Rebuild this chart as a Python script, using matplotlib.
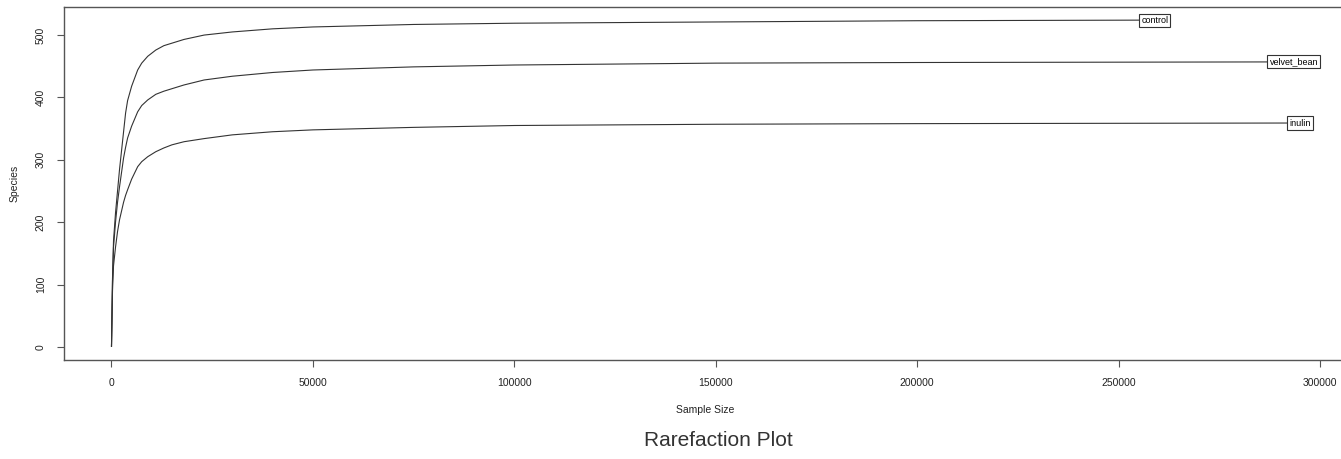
import matplotlib.pyplot as plt

plt.rcParams['font.family'] = ['Liberation Sans', 'DejaVu Sans']

# rarefaction curves
samples = ['control', 'velvet_bean', 'inulin']

control_x = [0, 250, 500, 1000, 1500, 2000, 2500, 3000, 3500, 4000, 5000, 6500, 7500,
             9000, 11000, 13000, 15000, 18000, 23000, 30000, 40000, 50000,
             75000, 100000, 150000, 200000, 259000]
control_y = [1, 110, 170, 215, 250, 285, 315, 345, 375, 395, 418, 444, 455,
             466, 476, 483, 487, 493, 500, 505, 510, 513,
             517, 519, 521, 523, 524]

velvet_x = [0, 250, 500, 1000, 1500, 2000, 2500, 3000, 3500, 4000, 5000, 6500, 7500,
            9000, 11000, 13000, 15000, 18000, 23000, 30000, 40000, 50000,
            75000, 100000, 150000, 200000, 293500]
velvet_y = [1, 105, 160, 200, 232, 257, 280, 303, 320, 335, 354, 377, 387,
            396, 405, 410, 414, 420, 428, 434, 440, 444,
            449, 452, 455, 456, 457]

inulin_x = [0, 250, 500, 1000, 1500, 2000, 2500, 3000, 3500, 4000, 5000, 6500, 7500,
            9000, 11000, 13000, 15000, 18000, 23000, 30000, 40000, 50000,
            75000, 100000, 150000, 200000, 295000]
inulin_y = [1, 90, 130, 160, 185, 204, 218, 232, 243, 252, 269, 289, 297,
            305, 313, 319, 324, 329, 334, 340, 345, 348,
            352, 355, 357, 358, 359]

curves = [(control_x, control_y), (velvet_x, velvet_y), (inulin_x, inulin_y)]

x_ticks = [0, 50000, 100000, 150000, 200000, 250000, 300000]
y_ticks = [0, 100, 200, 300, 400, 500]

fig = plt.figure(figsize=(13.41, 4.59), dpi=100)
ax = fig.add_axes([0.0477, 0.2157, 0.957, 0.769])

for name, (xs, ys) in zip(samples, curves):
    ax.plot(xs, ys, color='#333333', lw=0.8)
    ax.text(xs[-1], ys[-1], name, fontsize=6.5, ha='center', va='center',
            bbox=dict(facecolor='white', edgecolor='#333333', lw=0.8, pad=1.5))

xmax = max(max(c[0]) for c in curves)
ymax = max(max(c[1]) for c in curves)
ax.set_xlim(-0.04 * xmax, 1.04 * xmax)
ax.set_ylim(-0.04 * ymax, 1.04 * ymax)

ax.set_xticks(x_ticks)
ax.set_xticklabels([str(t) for t in x_ticks])
ax.set_yticks(y_ticks)
ax.set_yticklabels([str(t) for t in y_ticks], rotation=90, va='center')
ax.tick_params(labelsize=7.5, length=5, width=0.8, color='#555555', labelcolor='#222222', pad=8)

for s in ax.spines.values():
    s.set_color('#555555')
    s.set_linewidth(1.0)

ax.set_xlabel('Sample Size', fontsize=7.5, color='#222222', labelpad=12)
ax.set_ylabel('Species', fontsize=7.5, color='#222222', labelpad=12)

fig.text(0.536, 0.04, 'Rarefaction Plot', fontsize=15, color='#333333', ha='center', va='center')

fig.savefig('out.png', dpi=100)
